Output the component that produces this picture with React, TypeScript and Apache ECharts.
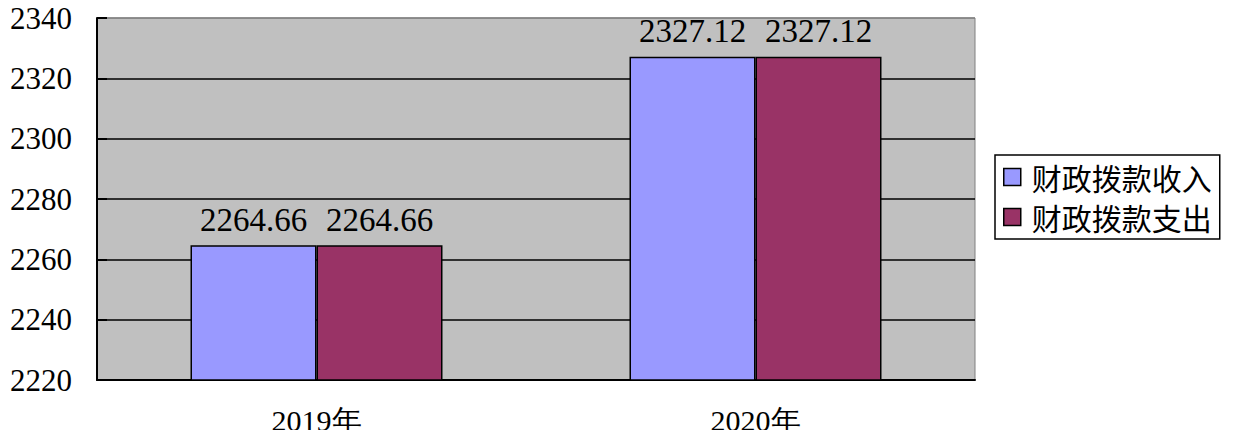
import React, { useEffect, useRef } from "react";
import * as echarts from "echarts";

const categories = ["2019年", "2020年"];
const incomeName = "财政拨款收入";
const expenseName = "财政拨款支出";
const incomeValues = [2264.66, 2327.12];
const expenseValues = [2264.66, 2327.12];
const yMin = 2220;
const yMax = 2340;
const yInterval = 20;

export default function App() {
  const ref = useRef<HTMLDivElement>(null);
  useEffect(() => {
    if (!ref.current) return;
    const chart = echarts.init(ref.current, null, { renderer: "svg" });
    const labelStyle = {
      show: true,
      position: "top" as const,
      distance: 9,
      fontFamily: "Liberation Serif",
      fontSize: 33,
      lineHeight: 33,
      color: "#000",
      formatter: (p: any) => p.value.toFixed(2),
    };
    chart.setOption({
      animation: false,
      backgroundColor: "#fff",
      grid: {
        left: 97,
        right: 265,
        top: 18,
        bottom: 58,
        show: true,
        backgroundColor: "#c0c0c0",
        borderColor: "#808080",
        borderWidth: 1,
      },
      legend: {
        orient: "vertical",
        left: 995,
        top: 155,
        padding: [6, 8, 6, 8],
        borderColor: "#000",
        borderWidth: 1.5,
        itemWidth: 17,
        itemHeight: 17,
        itemGap: 8,
        icon: "rect",
        itemStyle: { borderColor: "#000", borderWidth: 1.5 },
        textStyle: {
          fontFamily: "Noto Sans CJK SC",
          fontSize: 30,
          lineHeight: 32,
          color: "#000",
          padding: [0, 0, 0, 6],
        },
        data: [incomeName, expenseName],
      },
      xAxis: {
        type: "category",
        data: categories,
        axisLine: { lineStyle: { color: "#000", width: 2 } },
        axisTick: { inside: true, length: 10, lineStyle: { color: "#000", width: 2 } },
        axisLabel: {
          margin: 40,
          verticalAlign: "middle",
          lineHeight: 26,
          fontFamily: "Liberation Serif",
          fontSize: 30,
          color: "#000",
        },
      },
      yAxis: {
        type: "value",
        min: yMin,
        max: yMax,
        interval: yInterval,
        axisLine: { show: true, lineStyle: { color: "#000", width: 2 } },
        axisTick: { show: true, inside: true, length: 10, lineStyle: { color: "#000", width: 2 } },
        axisLabel: {
          margin: 25,
          fontFamily: "Liberation Serif",
          fontSize: 31,
          color: "#000",
          formatter: (v: number) => String(v),
        },
        splitLine: {
          show: true,
          lineStyle: {
            color: ["#000", "#000", "#000", "#000", "#000", "#000", "#808080"],
            width: 1.5,
          },
        },
      },
      series: [
        {
          name: incomeName,
          type: "bar",
          data: incomeValues,
          barWidth: 126,
          barGap: "0%",
          itemStyle: { color: "#9999ff", borderColor: "#000", borderWidth: 1.5 },
          label: labelStyle,
        },
        {
          name: expenseName,
          type: "bar",
          data: expenseValues,
          barWidth: 126,
          barGap: "0%",
          itemStyle: { color: "#993366", borderColor: "#000", borderWidth: 1.5 },
          label: labelStyle,
        },
      ],
    });
    return () => chart.dispose();
  }, []);
  return <div ref={ref} style={{ width: 1240, height: 438, margin: -8 }} />;
}
